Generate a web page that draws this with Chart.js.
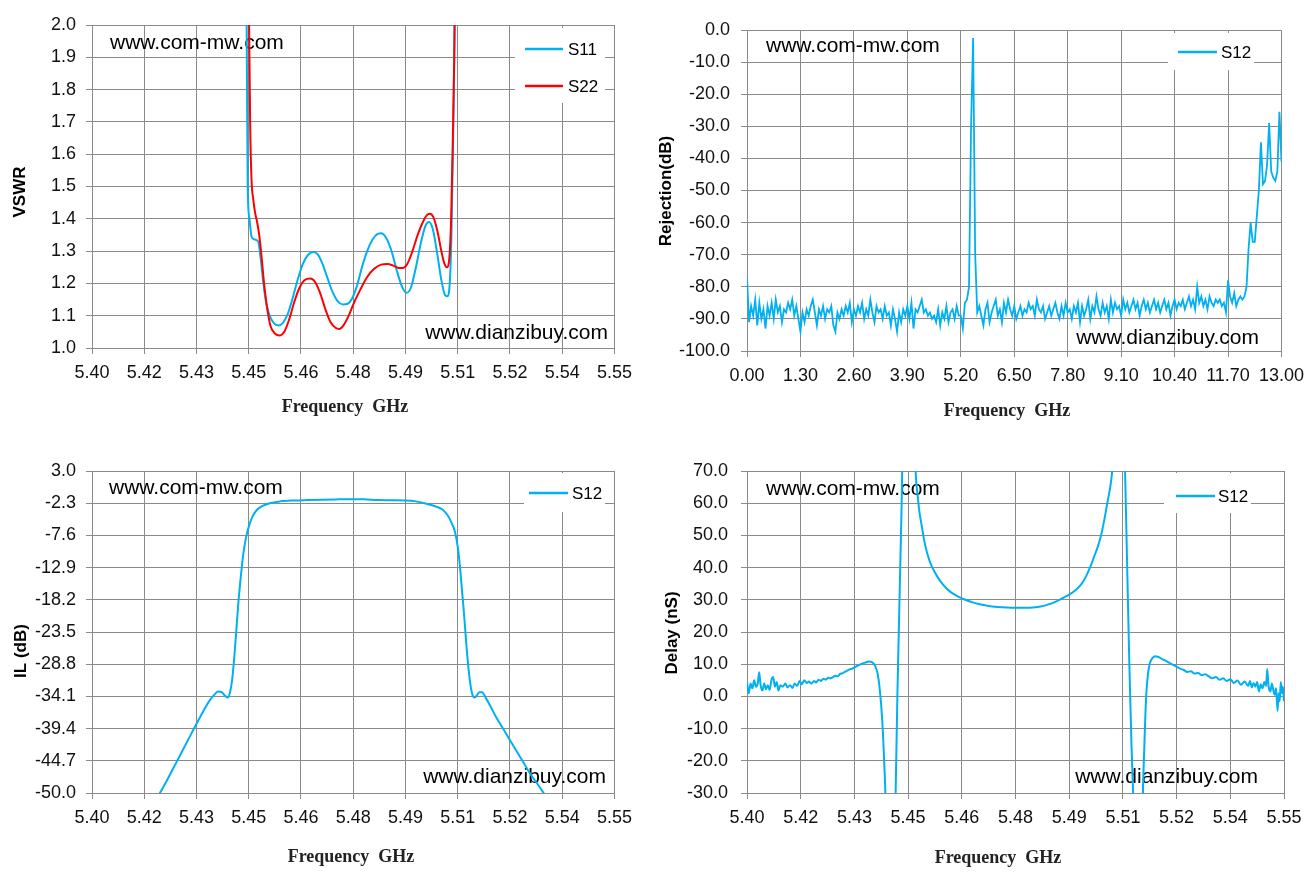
<!DOCTYPE html>
<html>
<head>
<meta charset="utf-8">
<title>Filter test report</title>
<script src="https://cdn.jsdelivr.net/npm/chart.js@4.4.1/dist/chart.umd.min.js"></script>
<style>
  html, body { margin: 0; padding: 0; background: #fff; }
  #page { position: relative; width: 1312px; height: 880px; overflow: hidden; }
  #page canvas { position: absolute; }
</style>
</head>
<body>
<div id="page">
  <canvas id="vswrChart" width="640" height="440" style="left:0;top:0"></canvas>
  <canvas id="rejChart" width="656" height="440" style="left:656px;top:0"></canvas>
  <canvas id="ilChart" width="640" height="440" style="left:0;top:440px"></canvas>
  <canvas id="delayChart" width="656" height="440" style="left:656px;top:440px"></canvas>
</div>
<script>
/* ============================
   DATA
============================ */
// shared frequency axis (GHz) of the narrow-band plots
const freqTicks = [5.400, 5.415, 5.430, 5.445, 5.460, 5.475, 5.490, 5.505, 5.520, 5.535, 5.550];
const freqTickLabels = ["5.40","5.42","5.43","5.45","5.46","5.48","5.49","5.51","5.52","5.54","5.55"];

// VSWR
const vswrTicks = [1.0, 1.1, 1.2, 1.3, 1.4, 1.5, 1.6, 1.7, 1.8, 1.9, 2.0];
const vswrTickLabels = ["1.0","1.1","1.2","1.3","1.4","1.5","1.6","1.7","1.8","1.9","2.0"];

const s11Freq = [
  5.4440,5.4444,5.4447,5.4452,5.4458,5.4463,5.4470,5.4477,5.4485,5.4492,
  5.4500,5.4510,5.4522,5.4536,5.4548,5.4560,5.4575,5.4590,5.4605,5.4620,
  5.4635,5.4648,5.4660,5.4675,5.4690,5.4705,5.4720,5.4732,5.4745,5.4760,
  5.4775,5.4790,5.4805,5.4820,5.4830,5.4845,5.4860,5.4875,5.4890,5.4903,
  5.4915,5.4930,5.4945,5.4958,5.4967,5.4978,5.4990,5.5003,5.5013,5.5020,
  5.5027,5.5032,5.5036,5.5040,5.5044,5.5048
];
const s11Vswr = [
  2.6,2.0,1.5,1.40,1.345,1.338,1.335,1.33,1.27,1.20,
  1.14,1.10,1.077,1.070,1.078,1.10,1.15,1.21,1.26,1.288,
  1.297,1.29,1.265,1.22,1.175,1.145,1.135,1.136,1.15,1.19,
  1.25,1.30,1.335,1.353,1.355,1.34,1.30,1.24,1.19,1.171,
  1.185,1.25,1.33,1.38,1.39,1.37,1.30,1.21,1.165,1.16,
  1.20,1.35,1.6,1.9,2.3,2.8
];

const s22Freq = [
  5.4448,5.4451,5.4454,5.4458,5.4463,5.4468,5.4474,5.4480,5.4487,5.4494,
  5.4502,5.4512,5.4525,5.4539,5.4552,5.4565,5.4580,5.4595,5.4610,5.4627,
  5.4640,5.4655,5.4670,5.4685,5.4700,5.4710,5.4722,5.4737,5.4752,5.4770,
  5.4790,5.4810,5.4830,5.4848,5.4865,5.4880,5.4893,5.4905,5.4920,5.4935,
  5.4950,5.4962,5.4970,5.4980,5.4992,5.5003,5.5012,5.5019,5.5026,5.5031,
  5.5036,5.5040,5.5044,5.5048
];
const s22Vswr = [
  2.6,2.0,1.7,1.52,1.46,1.42,1.39,1.35,1.28,1.20,
  1.13,1.07,1.045,1.039,1.05,1.085,1.14,1.185,1.21,1.215,
  1.205,1.17,1.12,1.08,1.062,1.059,1.07,1.10,1.14,1.18,
  1.22,1.245,1.258,1.26,1.255,1.248,1.248,1.26,1.30,1.35,
  1.39,1.412,1.416,1.405,1.36,1.30,1.26,1.25,1.28,1.4,
  1.65,1.9,2.3,2.8
];

// wide-band rejection, sweep 0 .. 13 GHz every 0.05 GHz
const rejStartGHz = 0;
const rejStepGHz = 0.05;
const rejXTicks = [0, 1.3, 2.6, 3.9, 5.2, 6.5, 7.8, 9.1, 10.4, 11.7, 13.0];
const rejXTickLabels = ["0.00","1.30","2.60","3.90","5.20","6.50","7.80","9.10","10.40","11.70","13.00"];
const rejYTicks = [-100, -90, -80, -70, -60, -50, -40, -30, -20, -10, 0];
const rejYTickLabels = ["-100.0","-90.0","-80.0","-70.0","-60.0","-50.0","-40.0","-30.0","-20.0","-10.0","0.0"];
const rejS12 = [
  -77,-91,-86,-89,-84,-92,-85,-90,-87,-93,-86,-89,-85,-90,-84,-88,-86,-91,-87,-88,   // 0.00
  -85,-87,-84,-89,-86,-90,-94,-88,-91,-87,-89,-86,-84,-88,-92,-87,-89,-86,-90,-87,   // 1.00
  -88,-86,-92,-94,-88,-90,-87,-89,-86,-88,-85,-91,-87,-89,-86,-88,-85,-90,-87,-89,   // 2.00
  -84,-88,-91,-86,-88,-87,-90,-86,-89,-88,-92,-87,-90,-94,-88,-91,-87,-89,-86,-90,   // 3.00
  -85,-93,-87,-88,-86,-84,-88,-87,-89,-88,-90,-89,-91,-87,-92,-88,-90,-86,-91,-88,   // 4.00
  -87,-90,-86,-89,-89,-93,-85,-84,-80,-30,-2.5,-70,-88,-86,-89,-92,-87,-85,-91,-88,  // 5.00
  -86,-84,-89,-87,-91,-85,-88,-84,-87,-89,-86,-90,-88,-86,-89,-87,-88,-85,-87,-86,   // 6.00
  -89,-84,-87,-88,-86,-90,-88,-86,-89,-87,-85,-88,-90,-86,-89,-85,-88,-87,-90,-86,   // 7.00
  -88,-85,-91,-86,-89,-87,-84,-90,-86,-88,-83,-87,-89,-85,-88,-86,-90,-84,-88,-85,   // 8.00
  -87,-86,-89,-84,-87,-85,-88,-86,-84,-87,-85,-89,-86,-84,-87,-85,-88,-86,-84,-87,   // 9.00
  -85,-88,-86,-84,-87,-85,-89,-86,-84,-87,-85,-86,-84,-87,-85,-83,-86,-84,-87,-80,   // 10.00
  -85,-83,-86,-84,-87,-83,-85,-86,-84,-85,-84,-86,-85,-88,-78,-83,-85,-82,-86,-84,   // 11.00
  -83,-84,-83,-80,-68,-60,-66,-66,-58,-50,-35,-48,-47,-42,-29,-44,-46,-47,-44,-25.5, // 12.00
  -41                                                                               // 13.00
];

// insertion loss
const ilTicks = [-50.0, -44.7, -39.4, -34.1, -28.8, -23.5, -18.2, -12.9, -7.6, -2.3, 3.0];
const ilTickLabels = ["-50.0","-44.7","-39.4","-34.1","-28.8","-23.5","-18.2","-12.9","-7.6","-2.3","3.0"];
const ilFreq = [
  5.4185,5.4200,5.4220,5.4240,5.4260,5.4280,5.4300,5.4320,5.4335,5.4350,
  5.4362,5.4372,5.4382,5.4390,5.4396,5.4402,5.4408,5.4414,5.4420,5.4427,
  5.4434,5.4442,5.4450,5.4460,5.4472,5.4488,5.4510,5.4540,5.4580,5.4620,
  5.4660,5.4700,5.4740,5.4780,5.4820,5.4860,5.4900,5.4930,5.4960,5.4985,
  5.5005,5.5020,5.5032,5.5042,5.5050,5.5056,5.5062,5.5068,5.5074,5.5080,
  5.5086,5.5092,5.5098,5.5104,5.5112,5.5120,5.5130,5.5142,5.5160,5.5180,
  5.5200,5.5220,5.5240,5.5260,5.5280,5.5300
];
const ilS12 = [
  -51,-49.5,-47.4,-45.2,-43.0,-40.8,-38.6,-36.5,-35.0,-33.9,
  -33.3,-33.4,-34.0,-34.3,-33.5,-31.5,-28.0,-23.5,-18.8,-14.5,
  -10.8,-8.0,-6.2,-4.6,-3.5,-2.8,-2.3,-2.0,-1.85,-1.78,
  -1.72,-1.68,-1.65,-1.67,-1.78,-1.82,-1.85,-2.0,-2.4,-2.8,
  -3.3,-4.2,-5.5,-7.0,-9.5,-12.5,-16.5,-20.5,-25.0,-29.0,
  -32.0,-33.8,-34.3,-34.0,-33.4,-33.4,-34.3,-35.5,-37.5,-39.4,
  -41.3,-43.2,-45.1,-47.0,-48.6,-50.3
];

// group delay
const delayTicks = [-30, -20, -10, 0, 10, 20, 30, 40, 50, 60, 70];
const delayTickLabels = ["-30.0","-20.0","-10.0","0.0","10.0","20.0","30.0","40.0","50.0","60.0","70.0"];
const delayFreq = [
  5.4000,5.4005,5.4010,5.4015,5.4020,5.4025,5.4030,5.4034,5.4038,5.4043,
  5.4048,5.4053,5.4058,5.4063,5.4068,5.4073,5.4078,5.4083,5.4088,5.4093,
  5.4100,5.4107,5.4113,5.4120,5.4127,5.4133,5.4140,5.4147,5.4153,5.4160,
  5.4167,5.4173,5.4180,5.4187,5.4193,5.4200,5.4207,5.4213,5.4220,5.4227,
  5.4233,5.4240,5.4247,5.4253,5.4260,5.4267,5.4273,5.4280,5.4287,5.4293,
  5.4300,5.4310,5.4320,5.4330,5.4340,5.4350,5.4358,5.4365,5.4370,5.4375,
  5.4380,5.4385,5.4390,5.4413,5.4416,5.4420,5.4424,5.4428,5.4432,5.4435,
  5.4450,5.4468,5.4472,5.4477,5.4482,5.4488,5.4494,5.4502,5.4512,5.4525,
  5.4540,5.4555,5.4570,5.4590,5.4610,5.4630,5.4650,5.4675,5.4700,5.4725,
  5.4750,5.4775,5.4800,5.4820,5.4840,5.4860,5.4880,5.4900,5.4920,5.4935,
  5.4948,5.4960,5.4970,5.4980,5.4990,5.5000,5.5008,5.5016,5.5022,5.5035,
  5.5050,5.5056,5.5062,5.5068,5.5074,5.5080,5.5090,5.5100,5.5105,5.5110,
  5.5115,5.5120,5.5126,5.5133,5.5141,5.5150,5.5160,5.5170,5.5180,5.5190,
  5.5200,5.5210,5.5220,5.5230,5.5240,5.5250,5.5260,5.5270,5.5280,5.5290,
  5.5300,5.5310,5.5320,5.5330,5.5340,5.5350,5.5360,5.5370,5.5380,5.5390,
  5.5400,5.5405,5.5410,5.5415,5.5420,5.5425,5.5430,5.5435,5.5440,5.5445,
  5.5450,5.5453,5.5457,5.5462,5.5466,5.5470,5.5474,5.5478,5.5482,5.5485,
  5.5488,5.5491,5.5494,5.5497,5.5500
];
const delayS12 = [
  4.5,1.0,4.0,2.5,5.0,3.0,4.0,7.5,3.5,1.8,
  4.0,2.2,3.5,2.0,5.0,6.0,3.0,4.5,1.8,3.5,
  3.0,4.0,2.8,3.5,2.6,4.0,3.2,4.8,3.8,5.0,
  4.2,4.6,4.0,4.8,4.3,5.2,4.8,5.5,5.2,5.8,
  5.6,6.0,6.4,6.2,7.0,7.2,7.6,8.0,8.4,8.6,
  9.0,9.6,10.1,10.5,10.8,10.6,9.5,7.0,3.0,-3.0,
  -12,-25,-40,-40,-25,0,20,40,60,80,
  150,80,68,62,57,53,49,45,41.5,38.5,
  35.8,33.8,32.3,31.0,30.0,29.2,28.6,28.1,27.8,27.6,
  27.5,27.5,27.6,27.9,28.5,29.3,30.4,31.6,33.2,35.0,
  37.5,40.5,43.5,46.5,50.5,56,61,66,73,110,
  90,70,40,10,-15,-35,-80,-80,-35,-15,
  0,7,10.5,12.0,12.5,12.2,11.6,11.0,10.4,9.8,
  9.2,8.6,8.2,7.6,7.8,7.1,7.3,6.6,6.9,6.2,
  5.6,6.0,5.2,5.6,4.8,5.3,4.2,4.9,3.6,4.6,
  3.2,4.8,2.8,4.2,3.0,4.5,1.5,3.8,2.5,4.5,
  3.2,8.5,3.0,1.5,4.0,2.0,0.5,2.5,-4.5,1.0,
  -1.5,4.5,1.0,3.0,-1.5
];

/* ============================
   HELPERS
============================ */
const BLUE = "#00B0F0";
const RED = "#FF0000";
const GRID = "#8a8a8a";
const SANS = '"Liberation Sans", Arial, sans-serif';
const SERIF = '"Liberation Serif", "Times New Roman", serif';

function toPoints(xs, ys) {
    return ys.map((y, i) => ({ x: xs[i], y }));
}

function sweepPoints(start, step, ys) {
    return ys.map((y, i) => ({ x: start + i * step, y }));
}

function buildAxis(a) {
    return {
        type: "linear",
        min: a.min,
        max: a.max,
        afterBuildTicks: s => { s.ticks = a.ticks.map(v => ({ value: v })); },
        afterFit: s => { if (a.isX) s.height = a.size; else s.width = a.size; },
        ticks: {
            autoSkip: false,
            maxRotation: 0,
            minRotation: 0,
            padding: a.pad,
            color: "#111",
            font: { family: SANS, size: 18 },
            callback: (v, i) => a.labels[i]
        },
        grid: { color: GRID, lineWidth: 1, tickLength: 6, drawTicks: true },
        border: { color: GRID, width: 1 }
    };
}

// watermarks under the traces; legend box and axis titles on top
const decorPlugin = {
    id: "decor",
    beforeDatasetsDraw(chart, args, o) {
        const ctx = chart.ctx;
        ctx.save();
        ctx.fillStyle = "#000";
        ctx.font = "21px " + SANS;
        ctx.textBaseline = "alphabetic";
        ctx.textAlign = "left";
        ctx.fillText("www.com-mw.com", o.markTop[0], o.markTop[1]);
        ctx.textAlign = "right";
        ctx.fillText("www.dianzibuy.com", o.markBottom[0], o.markBottom[1]);
        ctx.restore();
    },
    afterDatasetsDraw(chart, args, o) {
        const ctx = chart.ctx;
        ctx.save();

        // legend
        const lg = o.legend;
        ctx.fillStyle = "#fff";
        ctx.fillRect(lg.x, lg.y, lg.w, lg.h);
        chart.data.datasets.forEach((ds, i) => {
            const y = lg.rows[i];
            ctx.strokeStyle = ds.borderColor;
            ctx.lineWidth = 2.5;
            ctx.beginPath();
            ctx.moveTo(lg.x0, y);
            ctx.lineTo(lg.x1, y);
            ctx.stroke();
            ctx.fillStyle = "#000";
            ctx.font = "17px " + SANS;
            ctx.textAlign = "left";
            ctx.textBaseline = "alphabetic";
            ctx.fillText(ds.label, lg.tx, y + 6);
        });

        // y title
        ctx.fillStyle = "#000";
        ctx.font = "bold 17px " + SANS;
        ctx.textAlign = "center";
        ctx.textBaseline = "middle";
        ctx.save();
        ctx.translate(o.yTitle[1], o.yTitle[2]);
        ctx.rotate(-Math.PI / 2);
        ctx.fillText(o.yTitle[0], 0, 0);
        ctx.restore();

        // x title
        ctx.fillStyle = "#222";
        ctx.font = "bold 18px " + SERIF;
        ctx.fillText("Frequency  GHz", o.xTitle[0], o.xTitle[1]);

        ctx.restore();
    }
};

function makeChart(id, c) {
    return new Chart(document.getElementById(id), {
        type: "line",
        data: { datasets: c.datasets },
        options: {
            responsive: false,
            animation: false,
            devicePixelRatio: 1,
            layout: { padding: { top: c.top, right: c.right, left: 0, bottom: 0 } },
            elements: { point: { radius: 0 }, line: { borderWidth: 2 } },
            plugins: {
                legend: { display: false },
                tooltip: { enabled: false },
                decor: c.decor
            },
            scales: { x: c.x, y: c.y }
        },
        plugins: [decorPlugin]
    });
}

/* ============================
   CHARTS
============================ */
makeChart("vswrChart", {
    top: 25, right: 20,
    datasets: [
        { label: "S11", data: toPoints(s11Freq, s11Vswr), borderColor: BLUE,
          cubicInterpolationMode: "monotone", order: 1 },
        { label: "S22", data: toPoints(s22Freq, s22Vswr), borderColor: RED,
          cubicInterpolationMode: "monotone", order: 0 }
    ],
    x: buildAxis({ min: 5.40, max: 5.55, ticks: freqTicks, labels: freqTickLabels, isX: true, size: 92, pad: 8 }),
    y: buildAxis({ min: 1.0, max: 2.0, ticks: vswrTicks, labels: vswrTickLabels, size: 92, pad: 10 }),
    decor: {
        legend: { x: 515, y: 28, w: 90, h: 75, x0: 525, x1: 563, tx: 568, rows: [49, 86] },
        markTop: [110, 49], markBottom: [608, 339],
        yTitle: ["VSWR", 20, 192], xTitle: [345, 407]
    }
});

makeChart("rejChart", {
    top: 30, right: 28,
    datasets: [
        { label: "S12", data: sweepPoints(rejStartGHz, rejStepGHz, rejS12), borderColor: BLUE,
          borderWidth: 1.8, tension: 0 }
    ],
    x: buildAxis({ min: 0, max: 13, ticks: rejXTicks, labels: rejXTickLabels, isX: true, size: 89, pad: 8 }),
    y: buildAxis({ min: -100, max: 0, ticks: rejYTicks, labels: rejYTickLabels, size: 91, pad: 11 }),
    decor: {
        legend: { x: 512, y: 33, w: 86, h: 37, x0: 522, x1: 561, tx: 565, rows: [52] },
        markTop: [110, 52], markBottom: [603, 344],
        yTitle: ["Rejection(dB)", 10, 191], xTitle: [351, 411]
    }
});

makeChart("ilChart", {
    top: 31, right: 20,
    datasets: [
        { label: "S12", data: toPoints(ilFreq, ilS12), borderColor: BLUE,
          cubicInterpolationMode: "monotone" }
    ],
    x: buildAxis({ min: 5.40, max: 5.55, ticks: freqTicks, labels: freqTickLabels, isX: true, size: 87, pad: 8 }),
    y: buildAxis({ min: -50, max: 3, ticks: ilTicks, labels: ilTickLabels, size: 92, pad: 10 }),
    decor: {
        legend: { x: 524, y: 33, w: 81, h: 39, x0: 529, x1: 568, tx: 572, rows: [53] },
        markTop: [109, 54], markBottom: [606, 343],
        yTitle: ["IL (dB)", 21, 211], xTitle: [351, 417]
    }
});

makeChart("delayChart", {
    top: 31, right: 28,
    datasets: [
        { label: "S12", data: toPoints(delayFreq, delayS12), borderColor: BLUE,
          cubicInterpolationMode: "monotone" }
    ],
    x: buildAxis({ min: 5.40, max: 5.55, ticks: freqTicks, labels: freqTickLabels, isX: true, size: 87, pad: 8 }),
    y: buildAxis({ min: -30, max: 70, ticks: delayTicks, labels: delayTickLabels, size: 91, pad: 13 }),
    decor: {
        legend: { x: 508, y: 33, w: 87, h: 40, x0: 520, x1: 559, tx: 562, rows: [56] },
        markTop: [110, 55], markBottom: [602, 343],
        yTitle: ["Delay (nS)", 16, 193], xTitle: [342, 418]
    }
});
</script>
</body>
</html>
